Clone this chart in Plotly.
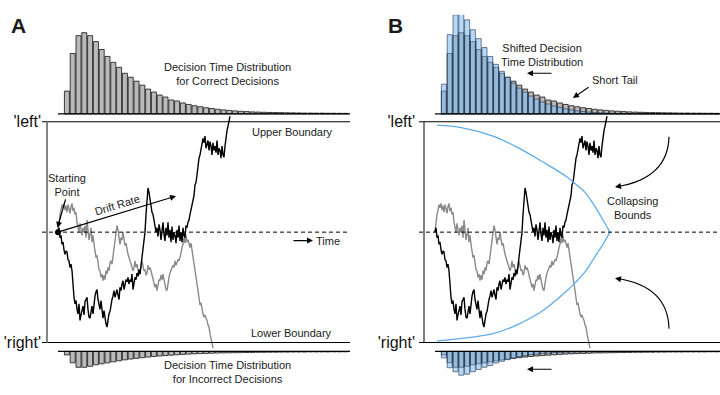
import numpy as np
import plotly.graph_objects as go

# ---------------- data ----------------
dt = 0.01  # sampling step of the simulated evidence traces (s)

black_trace = [0.00, 0.04, -0.05, -0.03, -0.11, -0.09, -0.16, -0.20, -0.17, -0.18,
               -0.25, -0.26, -0.32, -0.29, -0.35, -0.52, -0.59, -0.65, -0.62, -0.70,
               -0.74, -0.65, -0.80, -0.75, -0.70, -0.67, -0.75, -0.63, -0.61, -0.59,
               -0.70, -0.77, -0.78, -0.71, -0.67, -0.74, -0.65, -0.58, -0.54, -0.52,
               -0.61, -0.66, -0.70, -0.62, -0.74, -0.78, -0.71, -0.80, -0.83, -0.86,
               -0.78, -0.74, -0.72, -0.65, -0.61, -0.58, -0.53, -0.59, -0.56, -0.52,
               -0.57, -0.61, -0.50, -0.53, -0.47, -0.44, -0.52, -0.46, -0.43, -0.45,
               -0.41, -0.47, -0.43, -0.45, -0.38, -0.52, -0.47, -0.41, -0.43, -0.37,
               -0.40, -0.34, -0.38, -0.30, -0.23, -0.16, -0.07, 0.00, 0.16, 0.31,
               0.40, 0.36, 0.29, 0.24, 0.18, 0.16, 0.09, 0.07, 0.00, 0.04,
               -0.04, 0.07, 0.02, -0.07, 0.00, 0.09, -0.02, -0.08, 0.04, -0.03,
               0.09, -0.05, 0.02, -0.09, 0.05, -0.07, 0.00, -0.03, -0.10, 0.02,
               -0.05, 0.06, -0.08, 0.00, -0.09, 0.04, -0.03, -0.05, 0.06, 0.04,
               0.09, 0.11, 0.16, 0.20, 0.25, 0.29, 0.33, 0.43, 0.45, 0.52,
               0.61, 0.67, 0.70, 0.76, 0.78, 0.85, 0.81, 0.87, 0.76, 0.81,
               0.83, 0.74, 0.82, 0.78, 0.70, 0.81, 0.74, 0.78, 0.72, 0.83,
               0.70, 0.76, 0.74, 0.67, 0.78, 0.70, 0.68, 0.78, 0.87, 0.92,
               0.96, 1.00, 1.05]

gray_trace = [0.00, 0.09, 0.16, 0.20, 0.25, 0.22, 0.26, 0.20, 0.24, 0.18,
              0.25, 0.21, 0.17, 0.23, 0.26, 0.19, 0.22, 0.16, 0.18, 0.09,
              0.04, 0.00, 0.08, 0.02, -0.03, 0.04, 0.00, 0.06, -0.05, 0.11,
              0.00, -0.07, -0.02, 0.04, -0.09, -0.03, -0.11, -0.17, -0.23, -0.21,
              -0.30, -0.34, -0.35, -0.41, -0.38, -0.44, -0.39, -0.43, -0.35, -0.38,
              -0.32, -0.35, -0.28, -0.26, -0.29, -0.21, -0.16, -0.07, 0.00, 0.06,
              0.02, -0.05, -0.11, -0.05, -0.07, 0.00, -0.07, -0.12, -0.10, -0.16,
              -0.20, -0.23, -0.26, -0.30, -0.34, -0.35, -0.32, -0.26, -0.32, -0.29,
              -0.34, -0.39, -0.35, -0.32, -0.26, -0.30, -0.35, -0.34, -0.39, -0.37,
              -0.30, -0.34, -0.32, -0.35, -0.39, -0.41, -0.46, -0.50, -0.47, -0.53,
              -0.48, -0.43, -0.44, -0.39, -0.43, -0.38, -0.43, -0.48, -0.52, -0.53,
              -0.44, -0.41, -0.37, -0.34, -0.32, -0.30, -0.32, -0.26, -0.30, -0.28,
              -0.25, -0.26, -0.23, -0.19, -0.14, -0.11, -0.05, -0.10, -0.03, -0.09,
              -0.07, -0.12, -0.14, -0.10, -0.17, -0.23, -0.26, -0.34, -0.41, -0.47,
              -0.53, -0.61, -0.66, -0.64, -0.71, -0.74, -0.77, -0.75, -0.78, -0.80,
              -0.84, -0.86, -0.92, -0.96, -1.01, -1.05]

bin_start = 0.06
bin_width = 0.058

correct_counts = [23, 61, 79, 82, 79, 73, 65, 58, 52, 47,
                  41, 37, 33, 29, 25, 22, 19, 17, 14, 13,
                  11, 9.5, 8.2, 7.2, 6.2, 5.4, 4.6, 4.0, 3.5, 3.0,
                  2.6, 2.3, 2.0, 1.8, 1.6, 1.4, 1.3, 1.2, 1.1, 1.0,
                  0.9, 0.8, 0.8, 0.7, 0.7, 0.6, 0.6, 0.5, 0.5]
error_counts = [3.5, 11.5, 16, 16, 15, 13.5, 12.5, 11.5, 10.5, 9.5,
                8.5, 7.7, 7.0, 6.3, 5.7, 5.1, 4.6, 4.2, 3.8, 3.4,
                3.0, 2.7, 2.4, 2.2, 2.0, 1.8, 1.6, 1.5, 1.4, 1.3,
                1.2, 1.1, 1.0, 0.9, 0.9, 0.8, 0.8, 0.7, 0.7, 0.6,
                0.6, 0.6, 0.5, 0.5, 0.5, 0.5, 0.4, 0.4, 0.4]
shifted_correct_counts = [30, 80, 100, 102, 95, 85, 76, 67, 58, 50,
                          43, 37, 31, 26, 22, 18, 15, 12, 10, 8,
                          6.5, 5, 4, 3, 2.4, 1.8, 1.4, 1.0, 0.8, 0.6,
                          0.5, 0.4, 0.3, 0.3, 0.2, 0.2, 0.2, 0.1, 0.1, 0.1,
                          0, 0, 0, 0, 0, 0, 0, 0, 0]
shifted_error_counts = [6.5, 16.5, 20.5, 24, 23, 20.5, 18.3, 16, 14.3, 11.7,
                        10, 8.3, 6.7, 5.3, 4.3, 3.3, 2.7, 2.0, 1.7, 1.3,
                        1.0, 0.8, 0.6, 0.5, 0.4, 0.3, 0.2, 0.2, 0.1, 0.1,
                        0, 0, 0, 0, 0, 0, 0, 0, 0, 0,
                        0, 0, 0, 0, 0, 0, 0, 0, 0]

bound_t = [0.02, 0.25, 0.58, 0.82, 1.08, 1.32, 1.40, 1.50, 1.58, 1.68, 1.75]
bound_upper = [0.97, 0.95, 0.87, 0.77, 0.635, 0.50, 0.44, 0.36, 0.26, 0.11, 0.0]
bound_lower = [-0.985, -0.965, -0.92, -0.84, -0.71, -0.53, -0.46, -0.36, -0.25, -0.11, 0.0]

boundary_vals = [-1, 1]
boundary_labels = ["'right'", "'left'"]

# ---------------- derived ----------------
t_black = np.arange(len(black_trace)) * dt
t_gray = np.arange(len(gray_trace)) * dt
centers = bin_start + bin_width * (np.arange(len(correct_counts)) + 0.5)

FONT = "Liberation Sans, Arial, Helvetica, sans-serif"
GRAY_FILL = "#bababa"
BLUE_FILL = "rgba(120,186,242,0.55)"
BLUE_EDGE = "rgba(30,45,70,0.85)"
BLUE_LINE = "rgb(95,172,236)"

XA = [42 / 720, 350 / 720]
XB = [419 / 720, 1.0]
RA = [-0.16, 2.92]
RB = [-0.16, 2.85]
Y_MAIN = [0.11218, 0.71061]
Y_TOP = [0.70886, 0.96709]
Y_BOT = [0.03038, 0.11139]

fig = go.Figure()

panels = [
    dict(main=("x", "y"), top=("x2", "y2"), bot=("x3", "y3"), shifted=False, xr=RA),
    dict(main=("x4", "y4"), top=("x5", "y5"), bot=("x6", "y6"), shifted=True, xr=RB),
]

shapes = []
annotations = []

for p in panels:
    mx, my = p["main"]
    tx, ty = p["top"]
    bx, by = p["bot"]
    x_end = p["xr"][1]
    # histograms
    fig.add_trace(go.Bar(x=centers, y=correct_counts, width=0.05, xaxis=tx, yaxis=ty,
                         marker=dict(color=GRAY_FILL, line=dict(color="#111", width=0.8)),
                         showlegend=False, hoverinfo="skip"))
    fig.add_trace(go.Bar(x=centers, y=error_counts, width=0.05, xaxis=bx, yaxis=by,
                         marker=dict(color=GRAY_FILL, line=dict(color="#111", width=0.8)),
                         showlegend=False, hoverinfo="skip"))
    if p["shifted"]:
        fig.add_trace(go.Bar(x=centers, y=shifted_correct_counts, width=0.05, xaxis=tx, yaxis=ty,
                             marker=dict(color=BLUE_FILL, line=dict(color=BLUE_EDGE, width=0.7)),
                             showlegend=False, hoverinfo="skip"))
        fig.add_trace(go.Bar(x=centers, y=shifted_error_counts, width=0.05, xaxis=bx, yaxis=by,
                             marker=dict(color=BLUE_FILL, line=dict(color=BLUE_EDGE, width=0.7)),
                             showlegend=False, hoverinfo="skip"))
    # histogram baselines
    for ax_x, ax_y in ((tx, ty), (bx, by)):
        shapes.append(dict(type="line", xref=ax_x, yref=ax_y, x0=0, x1=x_end, y0=0, y1=0,
                           line=dict(color="black", width=1.3), layer="above"))
    # boundaries & midline
    for b in boundary_vals:
        shapes.append(dict(type="line", xref=mx, yref=my, x0=-0.16, x1=x_end, y0=b, y1=b,
                           line=dict(color="black", width=1.2)))
    shapes.append(dict(type="line", xref=mx, yref=my, x0=-0.16, x1=x_end, y0=0, y1=0,
                       line=dict(color="black", width=1, dash="4px,3px")))
    # vertical axis line
    shapes.append(dict(type="line", xref=mx, yref=my, x0=-0.11, x1=-0.11, y0=-1, y1=1,
                       line=dict(color="black" if p["shifted"] else "#858585",
                                 width=1 if p["shifted"] else 2)))
    # traces
    fig.add_trace(go.Scatter(x=t_gray, y=gray_trace, mode="lines", xaxis=mx, yaxis=my,
                             line=dict(color="#8a8a8a", width=1.4), showlegend=False, hoverinfo="skip"))
    fig.add_trace(go.Scatter(x=t_black, y=black_trace, mode="lines", xaxis=mx, yaxis=my,
                             line=dict(color="black", width=1.4), showlegend=False, hoverinfo="skip"))
    if p["shifted"]:
        for vals in (bound_upper, bound_lower):
            fig.add_trace(go.Scatter(x=bound_t, y=vals, mode="lines", xaxis=mx, yaxis=my,
                                     line=dict(color=BLUE_LINE, width=1.3, shape="spline"),
                                     showlegend=False, hoverinfo="skip"))
    else:
        fig.add_trace(go.Scatter(x=[0], y=[0], mode="markers", xaxis=mx, yaxis=my,
                                 marker=dict(color="black", size=6), showlegend=False, hoverinfo="skip"))


def txt(text, x, y, xref, yref, size=11, **kw):
    d = dict(text=text, x=x, y=y, xref=xref, yref=yref, showarrow=False,
             xanchor="center", yanchor="middle",
             font=dict(family=FONT, size=size, color="#1a1a1a"))
    d.update(kw)
    annotations.append(d)


def arrow(xh, yh, xt, yt, xref, yref, width=1.2, head=2, size=1.0):
    annotations.append(dict(text="", x=xh, y=yh, ax=xt, ay=yt, xref=xref, yref=yref,
                            axref=xref, ayref=yref, showarrow=True, arrowhead=head,
                            arrowsize=size, arrowwidth=width, arrowcolor="black",
                            standoff=0, startstandoff=0))


# panel letters
txt("<b>A</b>", 9 / 720, 1 - 10 / 395, "paper", "paper", size=21, xanchor="left", yanchor="top")
txt("<b>B</b>", 386 / 720, 1 - 10 / 395, "paper", "paper", size=21, xanchor="left", yanchor="top")

# panel A texts
txt("Decision Time Distribution<br>for Correct Decisions", 1.69, 40.5, "x2", "y2")
txt("Upper Boundary", 2.34, 0.91, "x", "y")
txt("Lower Boundary", 2.33, -0.91, "x", "y")
txt("Time", 2.56, -0.076, "x", "y", xanchor="left")
arrow(2.55, -0.076, 2.34, -0.076, "x", "y")
txt("Starting<br>Point", 0.09, 0.43, "x", "y")
arrow(-0.005, 0.04, 0.08, 0.31, "x", "y")
txt("Drift Rate", 0.59, 0.245, "x", "y", textangle=-17)
arrow(1.18, 0.327, 0.0, 0.0, "x", "y")
txt("Decision Time Distribution<br>for Incorrect Decisions", 227 / 720, 1 - 374 / 395, "paper", "paper")

# panel B texts
txt("Shifted Decision<br>Time Distribution", 1.07, 59, "x5", "y5")
arrow(0.92, 41, 1.18, 41, "x5", "y5")
txt("Short Tail", 1.80, 34, "x5", "y5")
arrow(1.38, 16, 1.55, 28, "x5", "y5")
txt("Collapsing<br>Bounds", 1.97, 0.22, "x4", "y4")
arrow(0.92, 18, 1.18, 18, "x6", "y6")
shapes.append(dict(type="path", xref="x4", yref="y4", path="M 2.34,0.865 Q 2.33,0.489 1.82,0.412",
                   line=dict(color="black", width=1.2)))
arrow(1.80, 0.408, 1.86, 0.418, "x4", "y4")
shapes.append(dict(type="path", xref="x4", yref="y4", path="M 2.34,-0.874 Q 2.33,-0.489 1.82,-0.420",
                   line=dict(color="black", width=1.2)))
arrow(1.80, -0.417, 1.86, -0.427, "x4", "y4")

hidden = dict(visible=False, showgrid=False, zeroline=False)
main_y = dict(domain=Y_MAIN, range=[-1.06, 1.06], tickvals=boundary_vals, ticktext=boundary_labels,
              ticks="", showline=False, showgrid=False, zeroline=False,
              tickfont=dict(family=FONT, size=16, color="#111"))

fig.update_layout(
    width=720, height=395, margin=dict(l=0, r=0, t=0, b=0),
    paper_bgcolor="white", plot_bgcolor="white", barmode="overlay", showlegend=False,
    font=dict(family=FONT), hovermode=False,
    xaxis=dict(domain=XA, range=RA, anchor="y", **hidden),
    yaxis=dict(anchor="x", **main_y),
    xaxis2=dict(domain=XA, range=RA, anchor="y2", **hidden),
    yaxis2=dict(domain=Y_TOP, range=[-2, 100], anchor="x2", **hidden),
    xaxis3=dict(domain=XA, range=RA, anchor="y3", **hidden),
    yaxis3=dict(domain=Y_BOT, range=[30, -2], anchor="x3", **hidden),
    xaxis4=dict(domain=XB, range=RB, anchor="y4", **hidden),
    yaxis4=dict(anchor="x4", ticklabelstandoff=3, **main_y),
    xaxis5=dict(domain=XB, range=RB, anchor="y5", **hidden),
    yaxis5=dict(domain=Y_TOP, range=[-2, 100], anchor="x5", **hidden),
    xaxis6=dict(domain=XB, range=RB, anchor="y6", **hidden),
    yaxis6=dict(domain=Y_BOT, range=[30, -2], anchor="x6", **hidden),
    shapes=shapes,
    annotations=annotations,
)

fig.write_html("out.html", config={"displayModeBar": False},
               post_script="document.body.style.margin='0px';")
